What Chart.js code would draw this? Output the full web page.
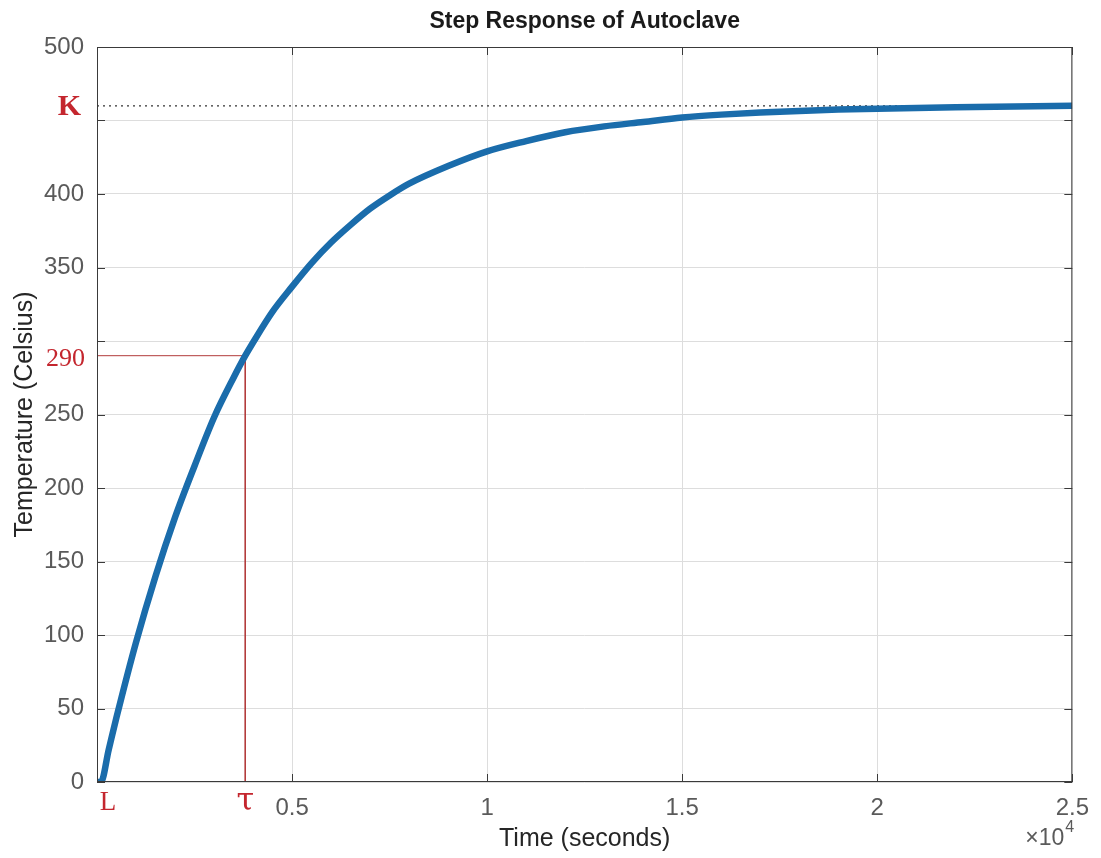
<!DOCTYPE html>
<html>
<head>
<meta charset="utf-8">
<script src="https://cdn.jsdelivr.net/npm/chart.js@4.4.0/dist/chart.umd.min.js"></script>
<style>
html, body { margin:0; padding:0; background:#fff; }
</style>
</head>
<body>
<canvas id="c" width="1101" height="858"></canvas>
<script>
// step response (time in s, temperature in C)
timeSec = [0, 100, 300, 500, 1000, 1500, 2000, 2500, 3000, 3500, 3800, 4000, 4500, 5000, 5500, 6000, 6500, 7000, 7500, 8000, 9000, 10000, 11000, 12000, 13000, 14000, 15000, 16000, 17000, 18000, 19000, 20000, 22000, 25000]
tempC   = [0, 0, 22, 44, 95, 140, 180, 215, 248, 275, 290, 299, 320, 337, 353, 367, 379, 390, 399, 407, 419, 429, 436, 442, 446, 449, 452, 454, 455.5, 456.5, 457.5, 458, 459, 460]

// annotations
K = 460
tau = 3800
tempAtTau = 290
L = 100
chartTitle = 'Step Response of Autoclave'

xMax = 25000
xStep = 5000
yMax = 500
yStep = 50
hiddenY = [300, 450]   // labels replaced by K / 290

tickFont = { family: 'Liberation Sans', size: 24 }
labelFont = { family: 'Liberation Sans', size: 25 }
tickColor = '#5a5a5a'
titleColor = '#262626'
red = '#c4262e'

var extras = {
    id: 'extras',
    afterDraw: function(chart) {
        var ctx = chart.ctx, a = chart.chartArea
        var xs = chart.scales.x, ys = chart.scales.y
        ctx.save()
        // axes box
        ctx.strokeStyle = '#3a3a3a'
        ctx.lineWidth = 1
        ctx.strokeRect(a.left + 0.5, a.top + 0.5, a.right - a.left - 1, a.bottom - a.top - 1)
        // inward tick marks like matlab
        ctx.beginPath()
        ys.ticks.forEach(function(t) {
            var y = Math.round(ys.getPixelForValue(t.value)) + 0.5
            ctx.moveTo(a.left, y); ctx.lineTo(a.left + 8, y)
            ctx.moveTo(a.right, y); ctx.lineTo(a.right - 8, y)
        })
        xs.ticks.forEach(function(t) {
            var x = Math.round(xs.getPixelForValue(t.value)) + 0.5
            ctx.moveTo(x, a.bottom); ctx.lineTo(x, a.bottom - 8)
            ctx.moveTo(x, a.top); ctx.lineTo(x, a.top + 8)
        })
        ctx.stroke()

        // title centred over the axes, as matlab does
        ctx.fillStyle = '#1a1a1a'
        ctx.textAlign = 'center'
        ctx.textBaseline = 'middle'
        ctx.font = 'bold 23px "Liberation Sans"'
        ctx.fillText(chartTitle, (a.left + a.right) / 2, 22)

        // red labels
        ctx.fillStyle = red
        ctx.textAlign = 'right'
        ctx.font = 'bold 30px "Liberation Serif"'
        ctx.fillText('K', a.left - 16, ys.getPixelForValue(K) + 1)
        ctx.font = '26px "Liberation Serif"'
        ctx.fillText(String(tempAtTau), a.left - 12, ys.getPixelForValue(tempAtTau) + 3)
        ctx.textAlign = 'center'
        ctx.font = '27px "Liberation Serif"'
        ctx.fillText('L', xs.getPixelForValue(L) + 7, a.bottom + 21)
        ctx.font = '32px "DejaVu Serif"'
        ctx.fillText('\u03c4', xs.getPixelForValue(tau), a.bottom + 20)

        // exponent
        ctx.fillStyle = tickColor
        ctx.textAlign = 'right'
        ctx.textBaseline = 'alphabetic'
        ctx.font = '23px "Liberation Sans"'
        ctx.fillText('\u00d710', a.right - 8, a.bottom + 63)
        ctx.textAlign = 'left'
        ctx.font = '16px "Liberation Sans"'
        ctx.fillText('4', a.right - 7, a.bottom + 50)
        ctx.restore()
    }
}

var curve = timeSec.map(function(t, i) { return { x: t, y: tempC[i] } })

new Chart(document.getElementById('c').getContext('2d'), {
    type: 'line',
    data: {
        datasets: [
            {
                label: 'Step response',
                data: curve,
                borderColor: '#1a6cab',
                borderWidth: 6.5,
                pointRadius: 0,
                cubicInterpolationMode: 'monotone',
                fill: false
            },
            {
                label: 'K',
                data: [{ x: 0, y: K }, { x: xMax, y: K }],
                borderColor: '#333333',
                borderWidth: 1.3,
                borderDash: [2, 4],
                pointRadius: 0
            },
            {
                label: 'tau',
                data: [{ x: 0, y: tempAtTau }, { x: tau, y: tempAtTau }, { x: tau, y: 0 }],
                borderColor: '#b23a3a',
                borderWidth: 1,
                pointRadius: 0,
                tension: 0
            }
        ]
    },
    options: {
        responsive: false,
        animation: false,
        devicePixelRatio: 1,
        layout: { padding: { left: 0, right: 25, top: 47, bottom: 0 } },
        plugins: {
            legend: { display: false },
            tooltip: { enabled: false },
            title: { display: false }
        },
        scales: {
            x: {
                type: 'linear',
                min: 0,
                max: xMax,
                border: { display: false },
                grid: { color: '#dddddd', drawTicks: false },
                ticks: {
                    stepSize: xStep,
                    padding: 12,
                    color: tickColor,
                    font: tickFont,
                    maxRotation: 0,
                    callback: function(v) { return v === 0 ? '' : String(v / 10000) }
                },
                title: {
                    display: true,
                    text: 'Time (seconds)',
                    color: titleColor,
                    font: labelFont,
                    padding: { top: 0, bottom: 4 }
                },
                afterFit: function(s) { s.height = 76 }
            },
            y: {
                min: 0,
                max: yMax,
                border: { display: false },
                grid: { color: '#dddddd', drawTicks: false },
                ticks: {
                    stepSize: yStep,
                    padding: 13,
                    color: tickColor,
                    font: tickFont,
                    callback: function(v) { return hiddenY.indexOf(v) >= 0 ? '' : String(v) }
                },
                title: {
                    display: true,
                    text: 'Temperature (Celsius)',
                    color: titleColor,
                    font: labelFont,
                    padding: { top: 10, bottom: 0 }
                },
                afterFit: function(s) { s.width = 97 }
            }
        }
    },
    plugins: [extras]
})
</script>
</body>
</html>
